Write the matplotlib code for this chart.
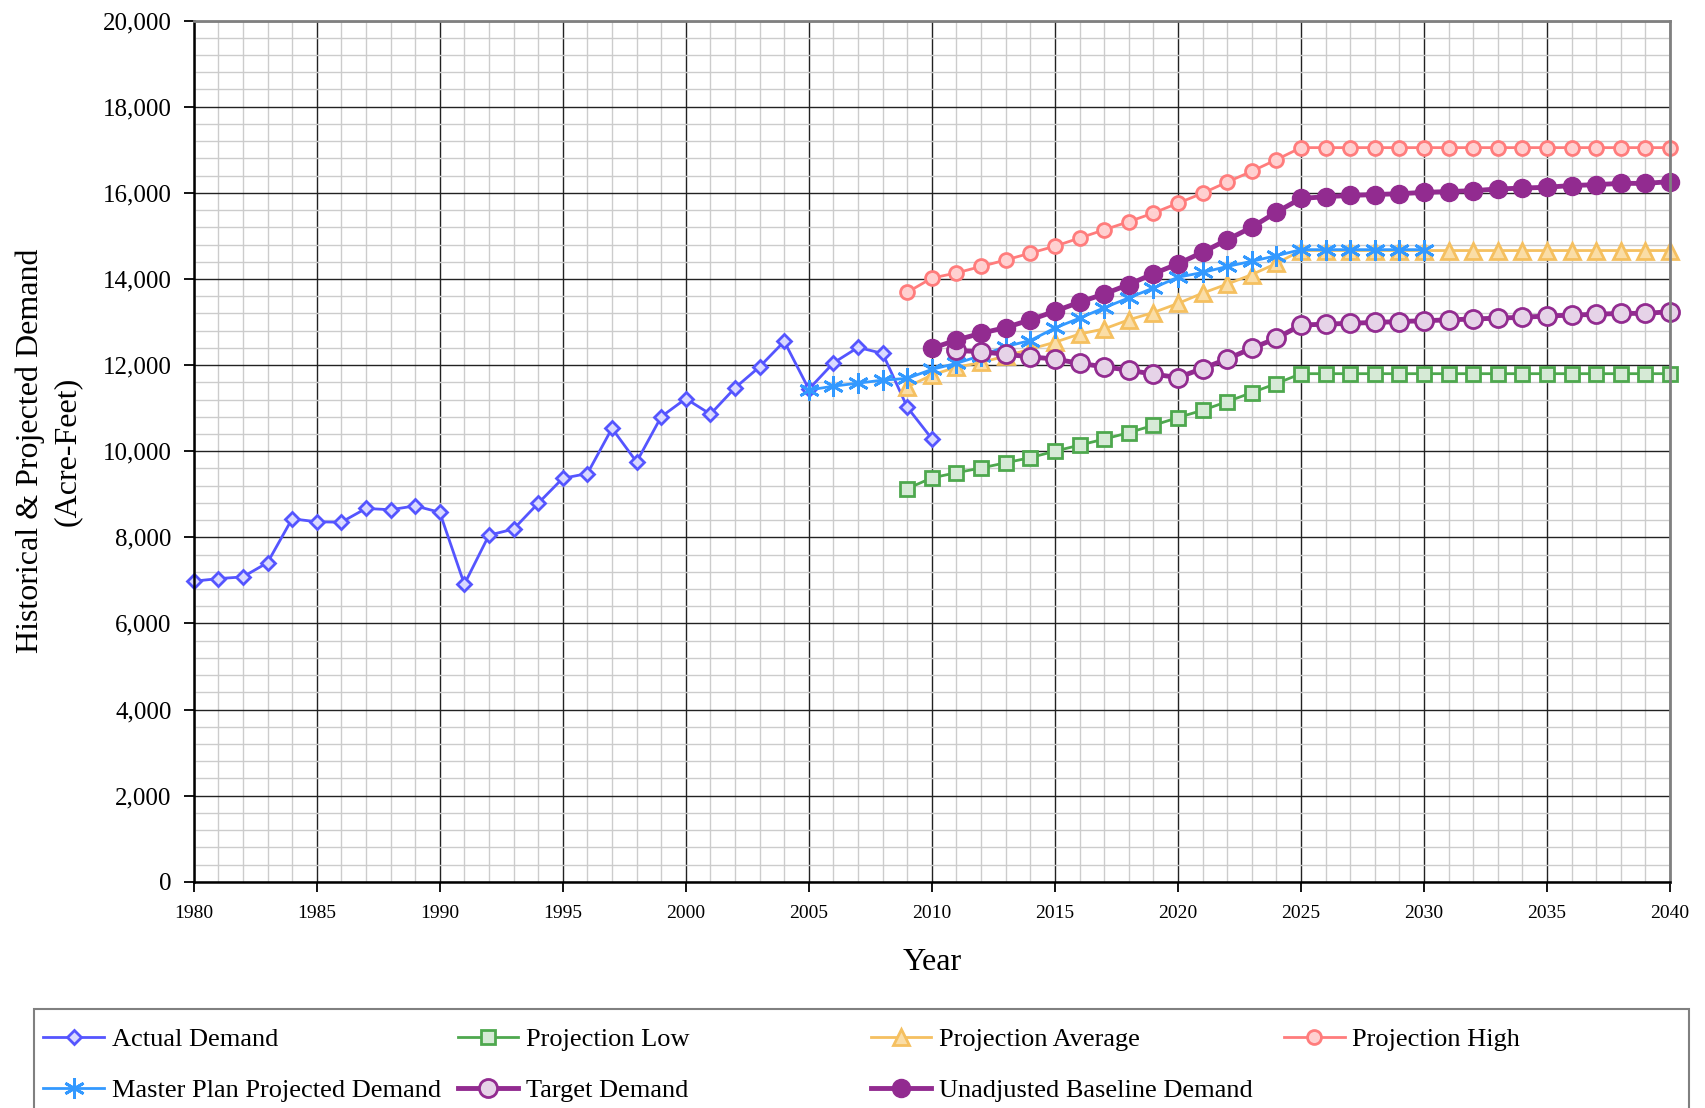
import numpy as np
import matplotlib.pyplot as plt
from matplotlib.patches import Rectangle
from matplotlib.ticker import MultipleLocator, FuncFormatter

plt.rcParams['font.family'] = ['Liberation Serif', 'DejaVu Serif']

# historical demand 1980-2010
actual_years = np.arange(1980, 2011)
actual = [6980, 7040, 7080, 7410, 8430, 8360, 8350, 8670, 8640, 8730,
          8580, 6910, 8050, 8190, 8790, 9370, 9480, 10530, 9750, 10800,
          11220, 10860, 11470, 11960, 12550, 11440, 12050, 12410, 12270, 11020,
          10290]

# projections 2009-2040
proj_years = np.arange(2009, 2041)
proj_low = [9130, 9380, 9500, 9610, 9730, 9850, 10000, 10140, 10280, 10430,
            10600, 10780, 10950, 11150, 11360, 11570, 11800, 11800, 11800, 11800,
            11800, 11800, 11800, 11800, 11800, 11800, 11800, 11800, 11800, 11800,
            11800, 11800]
proj_avg = [11490, 11770, 11950, 12060, 12210, 12370, 12530, 12720, 12840, 13050,
            13220, 13430, 13670, 13880, 14100, 14360, 14660, 14660, 14660, 14660,
            14660, 14660, 14660, 14660, 14660, 14660, 14660, 14660, 14660, 14660,
            14660, 14660]
proj_high = [13690, 14020, 14140, 14290, 14440, 14600, 14760, 14950, 15140, 15330,
             15530, 15760, 15990, 16250, 16500, 16770, 17050, 17050, 17050, 17050,
             17050, 17050, 17050, 17050, 17050, 17050, 17050, 17050, 17050, 17050,
             17050, 17050]

# master plan 2005-2030
master_years = np.arange(2005, 2031)
master = [11420, 11510, 11580, 11650, 11690, 11900, 12040, 12220, 12430, 12570,
          12860, 13090, 13330, 13560, 13790, 14040, 14150, 14290, 14410, 14540,
          14680, 14680, 14680, 14680, 14680, 14680]

# target demand 2011-2040
target_years = np.arange(2011, 2041)
target = [12340, 12310, 12250, 12190, 12140, 12040, 11960, 11880, 11790, 11710,
          11920, 12140, 12390, 12620, 12930, 12950, 12970, 12990, 13010, 13030,
          13050, 13070, 13090, 13110, 13140, 13160, 13180, 13200, 13200, 13240]

# unadjusted baseline 2010-2040
base_years = np.arange(2010, 2041)
baseline = [12390, 12580, 12740, 12870, 13050, 13250, 13460, 13650, 13870, 14120,
            14350, 14620, 14910, 15200, 15550, 15870, 15910, 15940, 15960, 15980,
            16010, 16030, 16050, 16090, 16110, 16130, 16170, 16190, 16220, 16220,
            16260]

fig = plt.figure(figsize=(17.05, 11.08), dpi=100)
ax = fig.add_axes([0.1136, 0.2042, 0.8659, 0.7772])

purple = '#922B90'
l1, = ax.plot(actual_years, actual, color='#5555FF', lw=2, marker='D', ms=7,
              mfc='#D9D9FF', mec='#5555FF', mew=2, label='Actual Demand', clip_on=False)
l2, = ax.plot(proj_years, proj_low, color='#4EA84E', lw=2, marker='s', ms=10,
              mfc='#D6EAD6', mec='#4EA84E', mew=2, label='Projection Low', clip_on=False)
l3, = ax.plot(proj_years, proj_avg, color='#F5C060', lw=2, marker='^', ms=11,
              mfc='#FADDA6', mec='#F5C060', mew=2, label='Projection Average', clip_on=False)
l4, = ax.plot(proj_years, proj_high, color='#FF7C7C', lw=2, marker='o', ms=10,
              mfc='#FFD0D0', mec='#FF7C7C', mew=2, label='Projection High', clip_on=False)
l5, = ax.plot(master_years, master, color='#3399FF', lw=2, marker=(6, 2, 0), ms=15,
              mec='#3399FF', mew=2, label='Master Plan Projected Demand', clip_on=False)
l6, = ax.plot(target_years, target, color=purple, lw=3.5, marker='o', ms=13,
              mfc='#E6D3E8', mec=purple, mew=2, label='Target Demand', clip_on=False)
l7, = ax.plot(base_years, baseline, color=purple, lw=3.5, marker='o', ms=13,
              mfc=purple, mec=purple, label='Unadjusted Baseline Demand', clip_on=False)

ax.set_xlim(1980, 2040)
ax.set_ylim(0, 20000)
ax.xaxis.set_major_locator(MultipleLocator(5))
ax.xaxis.set_minor_locator(MultipleLocator(1))
ax.yaxis.set_major_locator(MultipleLocator(2000))
ax.yaxis.set_minor_locator(MultipleLocator(400))
ax.yaxis.set_major_formatter(FuncFormatter(lambda v, p: f'{int(v):,}'))

ax.grid(which='minor', color='#CCCCCC', lw=1.0)
ax.grid(which='major', color='#222222', lw=1.0)
ax.set_axisbelow(True)
ax.tick_params(which='minor', length=0)
ax.tick_params(axis='y', which='major', length=7, width=1.3, pad=9, labelsize=18)
ax.tick_params(axis='x', which='major', length=7, width=1.3, pad=10, labelsize=14)

for s in ['left', 'bottom']:
    ax.spines[s].set_color('black')
    ax.spines[s].set_linewidth(1.8)
for s in ['top', 'right']:
    ax.spines[s].set_color('#808080')
    ax.spines[s].set_linewidth(2)

ax.set_xlabel('Year', fontsize=23)
ax.xaxis.set_label_coords(0.5, -0.077)
ax.set_ylabel('Historical & Projected Demand\n(Acre-Feet)', fontsize=23, linespacing=1.35)
ax.yaxis.set_label_coords(-0.076, 0.5)

# legend box along the bottom, four columns like the original
fig.patches.append(Rectangle((0.0199, -0.05), 0.9707, 0.1394, transform=fig.transFigure,
                             fill=False, edgecolor='#808080', lw=1.5))
cols = [[l1, l5], [l2, l6], [l3, l7], [l4]]
col_x = [0.0255, 0.2684, 0.5107, 0.7530]
for hs, x in zip(cols, col_x):
    fig.legend(handles=hs, loc='upper left', bbox_to_anchor=(x, 0.0725),
               frameon=False, fontsize=19, handlelength=2.3, handletextpad=0.3,
               labelspacing=1.05, borderpad=0, borderaxespad=0)

fig.savefig('out.png', dpi=100)
